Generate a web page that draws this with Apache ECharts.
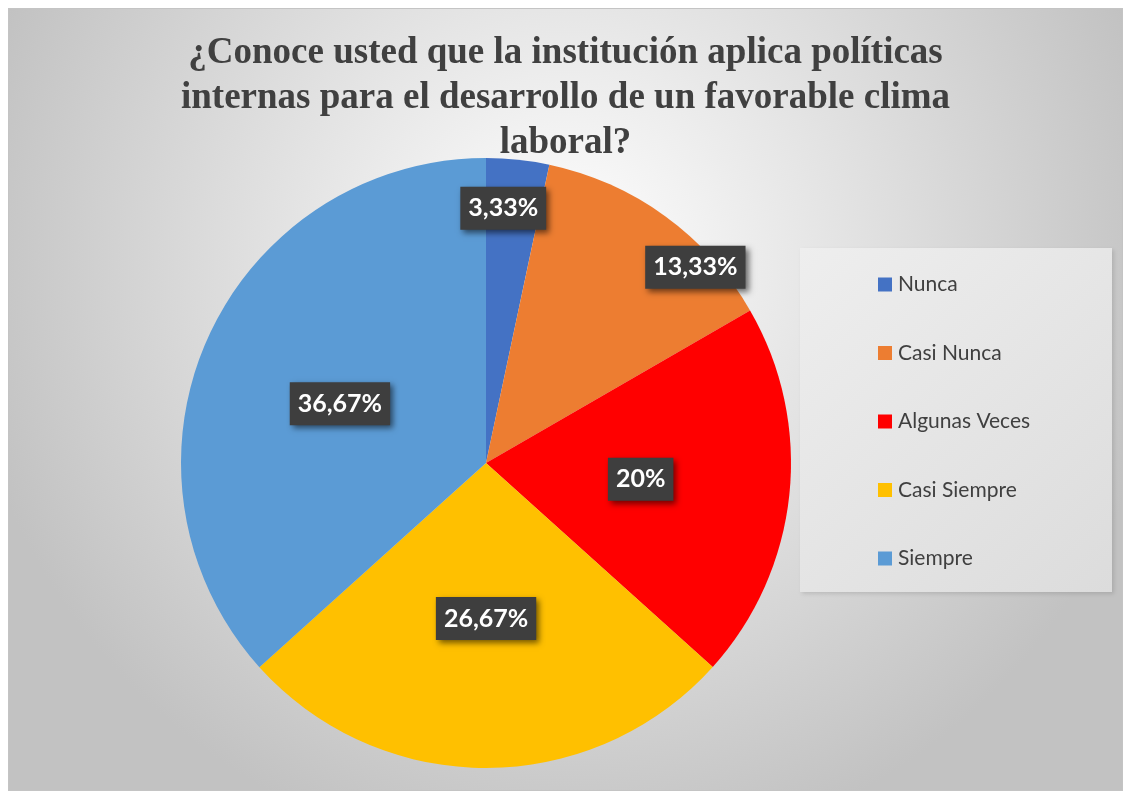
<!DOCTYPE html>
<html>
<head>
<meta charset="utf-8">
<script src="https://cdn.jsdelivr.net/npm/echarts@6/dist/echarts.min.js"></script>
<style>
  html, body { margin: 0; padding: 0; background: #ffffff; }
  #chart { position: absolute; left: 8px; top: 8px; width: 1115px; height: 783px; border: 1px solid #c4c4c4; box-sizing: border-box; }
</style>
</head>
<body>
<div id="chart"></div>
<script>
// Survey answers and their share of respondents (%)
const categories = ['Nunca', 'Casi Nunca', 'Algunas Veces', 'Casi Siempre', 'Siempre'];
const percentages = [3.33, 13.33, 20, 26.67, 36.67];
const sliceColors = ['#4472C4', '#ED7D31', '#FF0000', '#FFC000', '#5B9BD5'];
const titleText = '¿Conoce usted que la institución aplica políticas\ninternas para el desarrollo de un favorable clima\nlaboral?';

// Small slices get their labels pushed outward so they stay readable
const labelOffsets = [[1, -100], [118, -70], [0, 0], [0, 0], [-4, 4]];

const chart = echarts.init(document.getElementById('chart'), null, { renderer: 'canvas' });

const option = {
  backgroundColor: {
    type: 'radial', x: 0.5, y: 0.32, r: 0.78,
    colorStops: [
      { offset: 0, color: '#ffffff' },
      { offset: 1, color: '#c2c2c2' }
    ]
  },
  title: {
    text: titleText,
    left: 'center',
    top: 17,
    textStyle: {
      fontFamily: '"Liberation Serif", "Times New Roman", serif',
      fontWeight: 'bold',
      fontSize: 37,
      lineHeight: 45,
      color: '#404040'
    }
  },
  graphic: [{
    type: 'rect',
    left: 791,
    top: 239,
    shape: { width: 312, height: 344 },
    style: {
      fill: {
        type: 'linear', x: 0, y: 0, x2: 1, y2: 1,
        colorStops: [
          { offset: 0, color: '#eeeeee' },
          { offset: 1, color: '#dcdcdc' }
        ]
      },
      shadowColor: 'rgba(0,0,0,0.12)',
      shadowBlur: 4,
      shadowOffsetX: 2,
      shadowOffsetY: 2
    },
    z: 0
  }],
  legend: {
    orient: 'vertical',
    left: 869,
    top: 265,
    padding: 0,
    itemWidth: 14,
    itemHeight: 14,
    itemGap: 47.5,
    icon: 'rect',
    z: 5,
    data: categories,
    textStyle: {
      fontFamily: 'Lato, "Open Sans", sans-serif',
      fontSize: 21,
      lineHeight: 20,
      color: '#404040',
      padding: [0, 0, 0, 1]
    }
  },
  series: [{
    type: 'pie',
    center: [477, 454],
    radius: 305,
    startAngle: 90,
    clockwise: true,
    animation: false,
    silent: true,
    label: {
      show: true,
      position: 'inside',
      formatter: function (p) { return String(p.value).replace('.', ',') + '%'; },
      fontFamily: 'Lato, "Open Sans", sans-serif',
      fontWeight: 'bold',
      fontSize: 25,
      lineHeight: 26,
      color: '#ffffff',
      backgroundColor: '#3e3e3e',
      padding: [9, 8, 8, 8],
      shadowColor: 'rgba(0,0,0,0.55)',
      shadowBlur: 6,
      shadowOffsetX: 3,
      shadowOffsetY: 3
    },
    labelLine: { show: false },
    data: categories.map(function (name, i) {
      return {
        name: name,
        value: percentages[i],
        itemStyle: { color: sliceColors[i] },
        label: { offset: labelOffsets[i] }
      };
    })
  }]
};

chart.setOption(option);
</script>
</body>
</html>
